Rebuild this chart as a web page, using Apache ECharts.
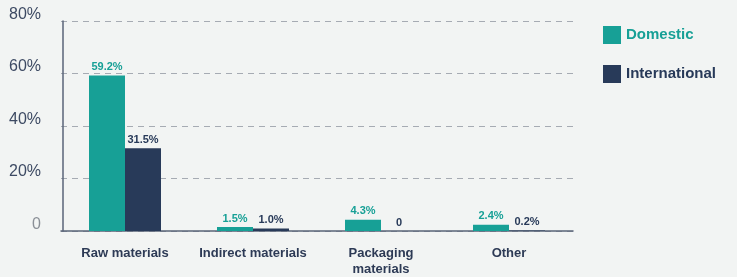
<!DOCTYPE html>
<html><head><meta charset="utf-8">
<script src="https://cdn.jsdelivr.net/npm/echarts@6/dist/echarts.min.js"></script>
<style>html,body{margin:0;padding:0;background:#f2f4f3;}#c{width:737px;height:277px;}</style>
</head><body><div id="c"></div>
<script>
var categories = ['Raw materials', 'Indirect materials', 'Packaging\nmaterials', 'Other'];
var domestic = [59.2, 1.5, 4.3, 2.4];
var international = [31.5, 1.0, 0, 0.2];
var yTicks = [0, 20, 40, 60, 80];

var FF = '"Liberation Sans", Arial, Helvetica, sans-serif';
var chart = echarts.init(document.getElementById('c'));
function fmt(p){ return p.value === 0 ? '0' : p.value.toFixed(1) + '%'; }
chart.setOption({
  backgroundColor: '#f2f4f3',
  animation: false,
  textStyle: { fontFamily: FF },
  grid: { left: 61, right: 164, top: 21, bottom: 46, containLabel: false },
  legend: {
    orient: 'vertical', left: 598, top: 21,
    itemWidth: 18, itemHeight: 18, itemGap: 21,
    icon: 'rect',
    textStyle: { fontSize: 15, fontWeight: 'bold', fontFamily: FF },
    data: [
      { name: 'Domestic', textStyle: { color: '#17a096' } },
      { name: 'International', textStyle: { color: '#283a59' } }
    ]
  },
  xAxis: {
    type: 'category', data: categories,
    axisLine: { lineStyle: { color: '#5a6478', width: 1.5 } },
    axisTick: { show: false },
    axisLabel: { color: '#2d3a55', fontSize: 13, fontWeight: 'bold', fontFamily: FF, margin: 14, lineHeight: 16, interval: 0 }
  },
  yAxis: {
    type: 'value', min: yTicks[0], max: yTicks[yTicks.length - 1], interval: 20,
    offset: -2,
    axisLine: { show: true, lineStyle: { color: '#5a6478', width: 1.5 } },
    axisTick: { show: false },
    splitLine: { lineStyle: { color: '#a6abb3', type: [6, 5], width: 1 } },
    axisLabel: {
      fontSize: 16, fontFamily: FF, margin: 22, verticalAlign: 'bottom', lineHeight: 13,
      formatter: function (v) { return v === 0 ? '0' : v + '%'; },
      color: function (v) { return Number(v) === 0 ? '#8a8f96' : '#3d4a63'; }
    }
  },
  series: [
    {
      name: 'Domestic', type: 'bar', data: domestic, barWidth: 36, barGap: '0%',
      itemStyle: { color: '#17a096' },
      label: { show: true, position: 'top', distance: 3, color: '#17a096', fontSize: 11, fontWeight: 'bold', fontFamily: FF, formatter: fmt }
    },
    {
      name: 'International', type: 'bar', data: international, barWidth: 36,
      itemStyle: { color: '#283a59' },
      label: { show: true, position: 'top', distance: 3, color: '#283a59', fontSize: 11, fontWeight: 'bold', fontFamily: FF, formatter: fmt }
    }
  ]
});
</script></body></html>
